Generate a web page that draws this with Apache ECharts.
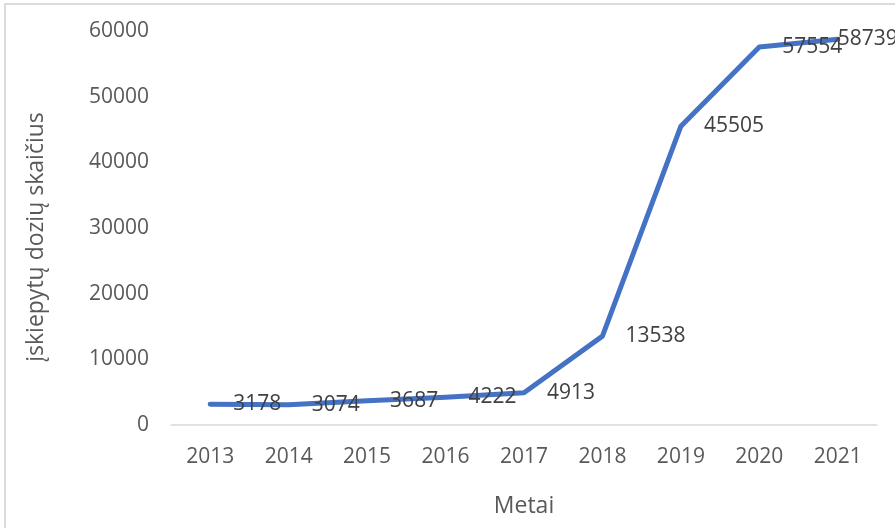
<!DOCTYPE html>
<html>
<head>
<meta charset="utf-8">
<script src="https://cdn.jsdelivr.net/npm/echarts@6/dist/echarts.min.js"></script>
<style>html,body{margin:0;padding:0;background:#fff;}#c{width:895px;height:528px;}</style>
</head>
<body>
<div id="c"></div>
<script>
const years = ['2013','2014','2015','2016','2017','2018','2019','2020','2021'];
const doses = [3178, 3074, 3687, 4222, 4913, 13538, 45505, 57554, 58739];
const yTicks = [0, 10000, 20000, 30000, 40000, 50000, 60000];
const yTitle = 'įskiepytų dozių skaičius';
const xTitle = 'Metai';

const chart = echarts.init(document.getElementById('c'), null, {renderer: 'canvas'});
const font = '"Open Sans", "Noto Sans", sans-serif';
const seriesData = doses.map((v, i) => i === doses.length - 1 ? {value: v, label: {distance: 0}} : v);
chart.setOption({
  animation: false,
  backgroundColor: '#ffffff',
  graphic: [{
    type: 'rect', shape: {x: 5, y: 4, width: 900, height: 540},
    style: {fill: 'none', stroke: '#d0d0d0', lineWidth: 1.5}, silent: true
  }],
  grid: {left: 171, right: 18, top: 31, bottom: 103, containLabel: false},
  xAxis: {
    type: 'category', data: years, boundaryGap: true,
    axisLine: {lineStyle: {color: '#d9d9d9', width: 1.5}},
    axisTick: {show: false},
    axisLabel: {color: '#595959', fontSize: 21, fontFamily: font, margin: 22},
    name: xTitle, nameLocation: 'middle', nameGap: 70,
    nameTextStyle: {color: '#595959', fontSize: 23, fontFamily: font}
  },
  yAxis: {
    type: 'value', min: yTicks[0], max: yTicks[yTicks.length - 1], interval: 10000,
    axisLine: {show: false}, axisTick: {show: false}, splitLine: {show: false},
    axisLabel: {color: '#595959', fontSize: 21, fontFamily: font, margin: 22, formatter: v => String(v)},
    name: yTitle, nameLocation: 'middle', nameGap: 123, nameRotate: 90,
    nameTextStyle: {color: '#595959', fontSize: 23, fontFamily: font, padding: [0, 18, 0, 0]}
  },
  series: [{
    type: 'line', data: seriesData, showSymbol: true, symbol: 'circle', symbolSize: 0.01,
    itemStyle: {color: '#4472C4'},
    lineStyle: {color: '#4472C4', width: 5, cap: 'round', join: 'round'},
    label: {show: true, position: 'right', distance: 23, color: '#404040', fontSize: 21, fontFamily: font}
  }]
});
</script>
</body>
</html>
